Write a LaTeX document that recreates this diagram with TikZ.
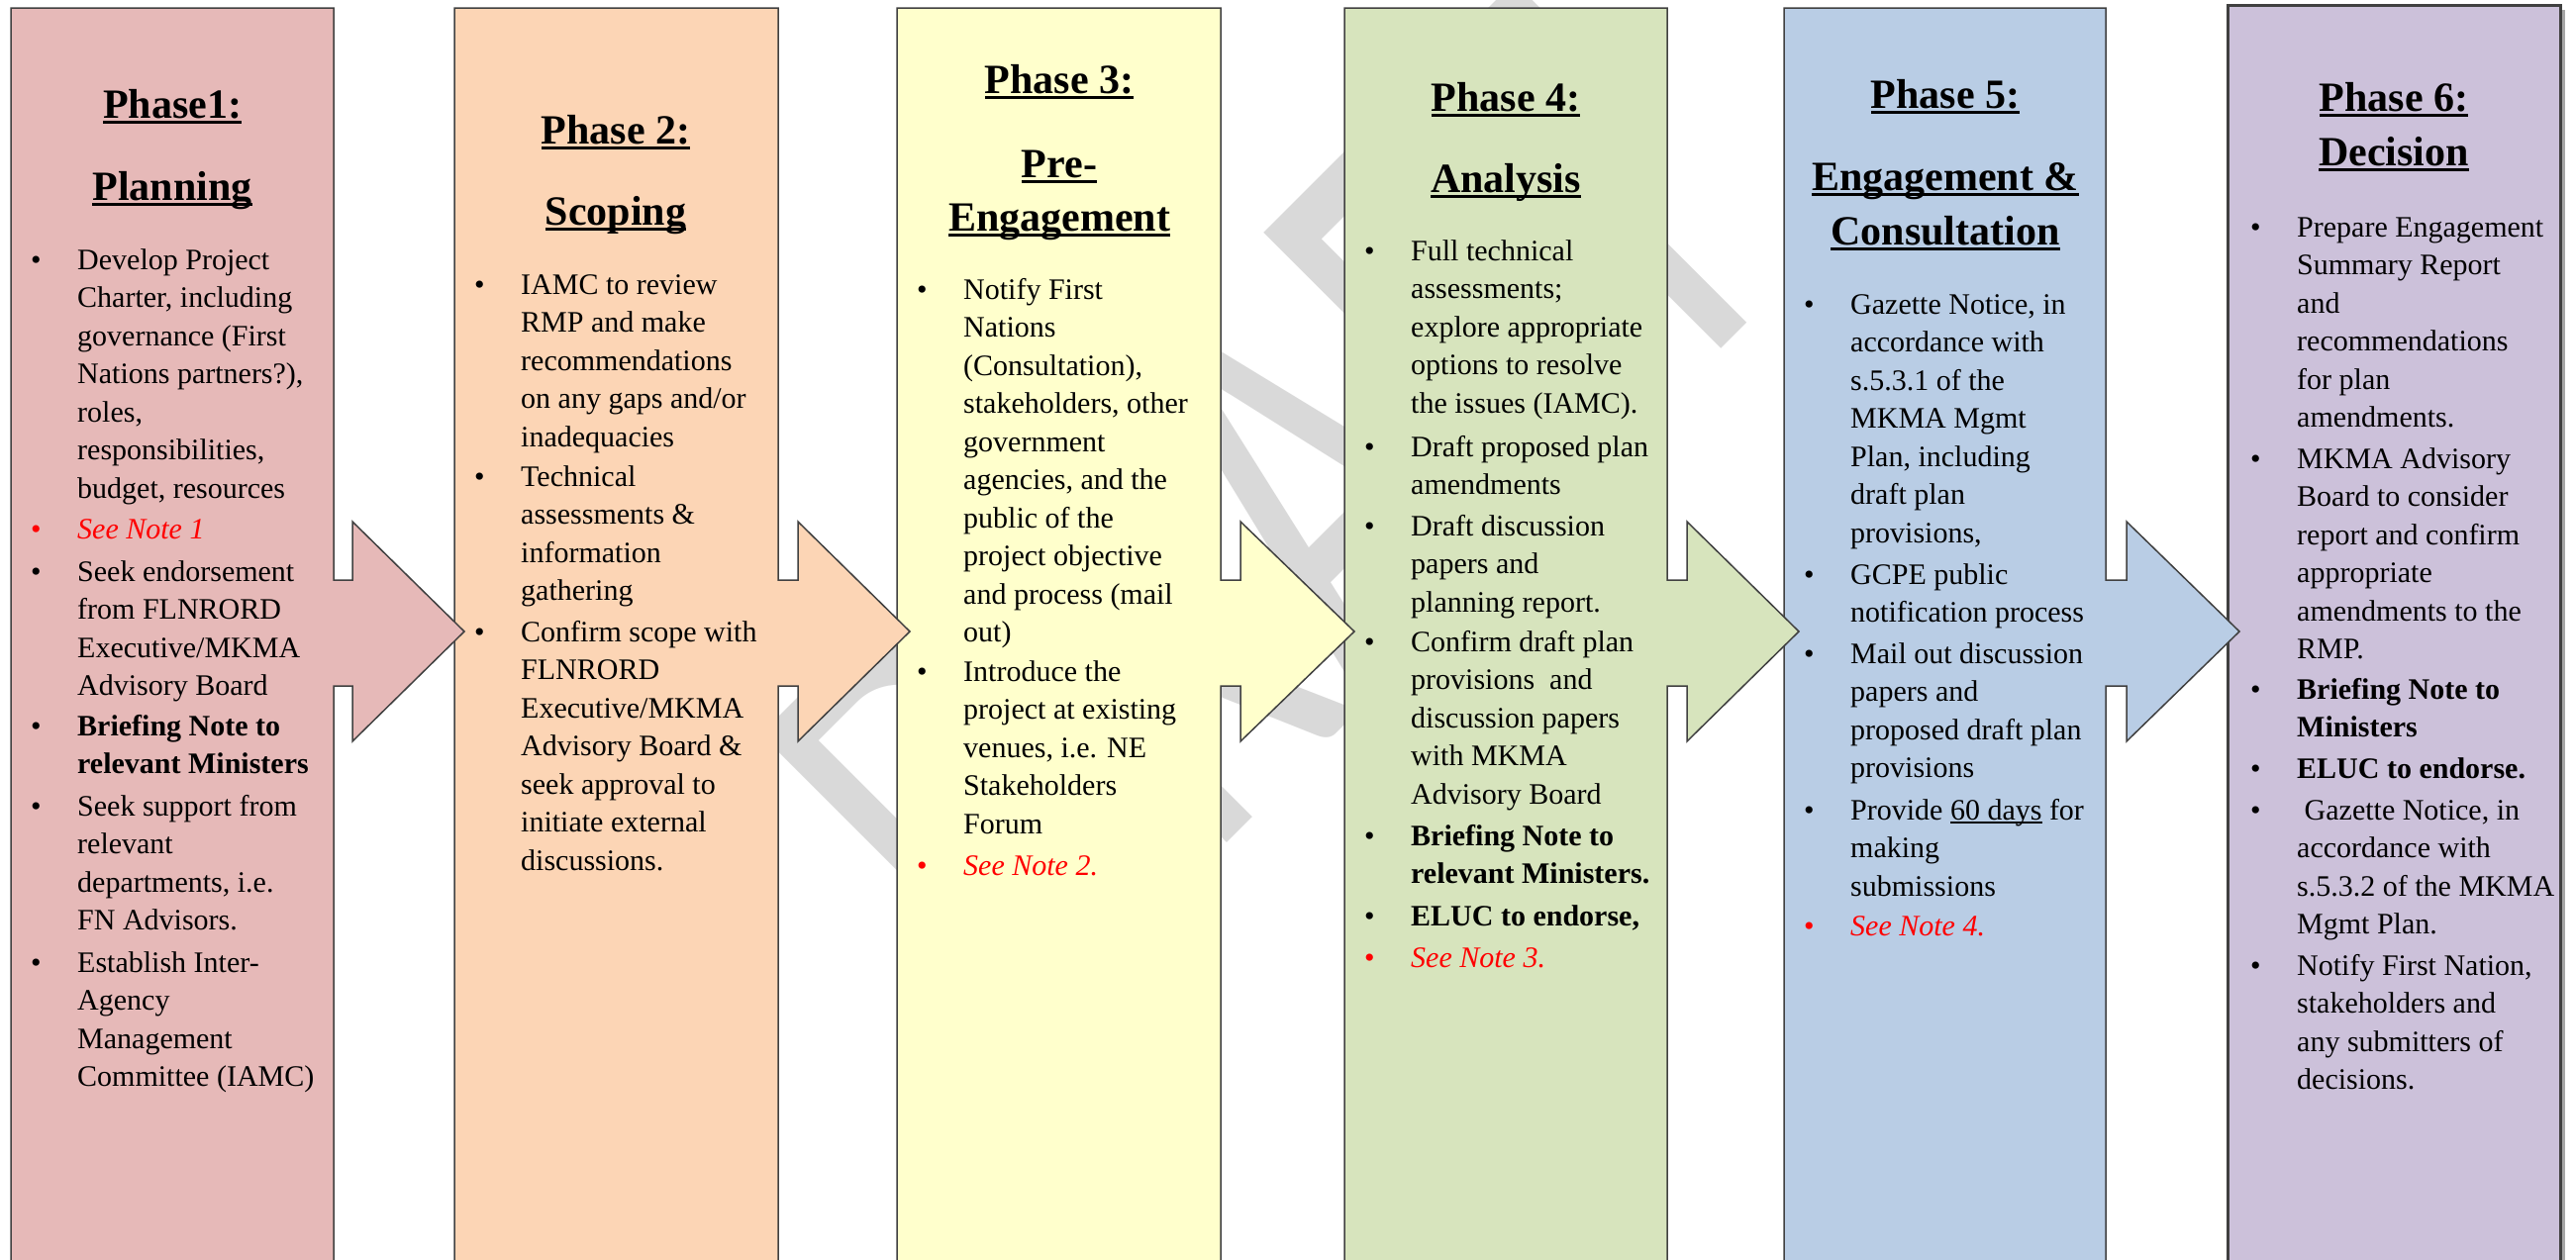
\documentclass[tikz,border=0pt]{standalone}
\usepackage{fontspec}
\setmainfont{Liberation Serif}
\newfontfamily\wmfont{Carlito}
\usepackage{tikz}
\usetikzlibrary{positioning}

\definecolor{ph1}{HTML}{E6B9B8}
\definecolor{ph2}{HTML}{FCD5B5}
\definecolor{ph3}{HTML}{FFFFCC}
\definecolor{ph4}{HTML}{D7E4BD}
\definecolor{ph5}{HTML}{B9CDE5}
\definecolor{ph6}{HTML}{CCC1DA}
\definecolor{wmgray}{HTML}{D9D9D9}
\definecolor{notered}{HTML}{FF0000}

\newcommand{\bodyfont}{\fontsize{30}{38.5}\selectfont}
\newcommand{\titlefont}{\fontsize{42}{55}\selectfont\bfseries}
\newcommand{\phul}[1]{\setbox0=\hbox{#1}\rlap{\rule[-0.14em]{\wd0}{0.065em}}\box0\relax}

\begin{document}
\begin{tikzpicture}[x=1pt, y=-1pt,
    box/.style={draw=black!75, line width=1.5pt, line join=miter},
    dot/.style={anchor=north west, inner sep=0pt, font=\bodyfont},
    dotr/.style={dot, text=notered},
    itm/.style={anchor=north west, inner sep=0pt, align=left, font=\bodyfont},
    itmb/.style={itm, font=\bodyfont\bfseries},
    itmr/.style={itm, text=notered, font=\bodyfont\itshape},
    ttl/.style={anchor=base, inner sep=0pt, font=\titlefont},
    wm/.style={text=wmgray, inner sep=0pt, rotate=45, yscale=1.545,
               font=\wmfont\fontsize{413}{413}\selectfont}]
    \clip (0,0) rectangle (2602,1272);

    % Watermark
    \node[wm] (wm) at (1286,515) {DRAFT};

    % Columns, right to left so every arrow lies on the next column
    \fill[black!35] (2255,10) rectangle (2591,1290);
    \draw[box, line width=3pt, fill=ph6] (2250,5) rectangle (2586,1290);

    \draw[box, fill=ph5] (1802,1290) -- (1802,8) -- (2127,8) -- (2127,586) -- (2148,586) -- (2148,527)
        -- (2262,638) -- (2148,749) -- (2148,693) -- (2127,693) -- (2127,1290) -- cycle;
    \draw[box, fill=ph4] (1358,1290) -- (1358,8) -- (1684,8) -- (1684,586) -- (1704,586) -- (1704,527)
        -- (1817,638) -- (1704,749) -- (1704,693) -- (1684,693) -- (1684,1290) -- cycle;
    \draw[box, fill=ph3] (906,1290) -- (906,8) -- (1233,8) -- (1233,586) -- (1253,586) -- (1253,527)
        -- (1368,638) -- (1253,749) -- (1253,693) -- (1233,693) -- (1233,1290) -- cycle;
    \draw[box, fill=ph2] (459,1290) -- (459,8) -- (786,8) -- (786,586) -- (806,586) -- (806,527)
        -- (919,638) -- (806,749) -- (806,693) -- (786,693) -- (786,1290) -- cycle;
    \draw[box, fill=ph1] (11,1290) -- (11,8) -- (337,8) -- (337,586) -- (356,586) -- (356,527)
        -- (469,638) -- (356,749) -- (356,693) -- (337,693) -- (337,1290) -- cycle;

    % Phase 1
    \node[ttl] (p1t1) at (174,119) {\phul{Phase1:}};
    \node[ttl] (p1t2) at (174,202) {\phul{Planning}};
    \node[dot] (p1a-b) at (31,245) {\strut•};
    \node[itm] (p1a) at (78,245) {\strut Develop Project\\Charter, including\\governance (First\\Nations partners?),\\roles,\\responsibilities,\\budget, resources};
    \node[dotr] (p1b-b) at (31,517) {\strut•};
    \node[itmr] (p1b) at (78,517) {\strut See Note 1};
    \node[dot] (p1c-b) at (31,560) {\strut•};
    \node[itm] (p1c) at (78,560) {\strut Seek endorsement\\from FLNRORD\\Executive/MKMA\\Advisory Board};
    \node[dot] (p1d-b) at (31,716) {\strut•};
    \node[itmb] (p1d) at (78,716) {\strut Briefing Note to\\relevant Ministers};
    \node[dot] (p1e-b) at (31,797) {\strut•};
    \node[itm] (p1e) at (78,797) {\strut Seek support from\\relevant\\departments, i.e.\\FN Advisors.};
    \node[dot] (p1f-b) at (31,955) {\strut•};
    \node[itm] (p1f) at (78,955) {\strut Establish Inter-\\Agency\\Management\\Committee (IAMC)};

    % Phase 2
    \node[ttl] (p2t1) at (622,145) {\phul{Phase 2:}};
    \node[ttl] (p2t2) at (622,227) {\phul{Scoping}};
    \node[dot] (p2a-b) at (479,270) {\strut•};
    \node[itm] (p2a) at (526,270) {\strut IAMC to review\\RMP and make\\recommendations\\on any gaps and/or\\inadequacies};
    \node[dot] (p2b-b) at (479,464) {\strut•};
    \node[itm] (p2b) at (526,464) {\strut Technical\\assessments \&\\information\\gathering};
    \node[dot] (p2c-b) at (479,621) {\strut•};
    \node[itm] (p2c) at (526,621) {\strut Confirm scope with\\FLNRORD\\Executive/MKMA\\Advisory Board \&\\seek approval to\\initiate external\\discussions.};

    % Phase 3
    \node[ttl] (p3t1) at (1070,94) {\phul{Phase 3:}};
    \node[ttl] (p3t2) at (1070,179) {\phul{Pre-}};
    \node[ttl] (p3t3) at (1070,233) {\phul{Engagement}};
    \node[dot] (p3a-b) at (926,275) {\strut•};
    \node[itm] (p3a) at (973,275) {\strut Notify First\\Nations\\(Consultation),\\stakeholders, other\\government\\agencies, and the\\public of the\\project objective\\and process (mail\\out)};
    \node[dot] (p3b-b) at (926,661) {\strut•};
    \node[itm] (p3b) at (973,661) {\strut Introduce the\\project at existing\\venues, i.e. NE\\Stakeholders\\Forum};
    \node[dotr] (p3c-b) at (926,857) {\strut•};
    \node[itmr] (p3c) at (973,857) {\strut See Note 2.};

    % Phase 4
    \node[ttl] (p4t1) at (1521,112) {\phul{Phase 4:}};
    \node[ttl] (p4t2) at (1521,194) {\phul{Analysis}};
    \node[dot] (p4a-b) at (1378,236) {\strut•};
    \node[itm] (p4a) at (1425,236) {\strut Full technical\\assessments;\\explore appropriate\\options to resolve\\the issues (IAMC).};
    \node[dot] (p4b-b) at (1378,434) {\strut•};
    \node[itm] (p4b) at (1425,434) {\strut Draft proposed plan\\amendments};
    \node[dot] (p4c-b) at (1378,514) {\strut•};
    \node[itm] (p4c) at (1425,514) {\strut Draft discussion\\papers and\\planning report.};
    \node[dot] (p4d-b) at (1378,631) {\strut•};
    \node[itm] (p4d) at (1425,631) {\strut Confirm draft plan\\provisions\ \ and\\discussion papers\\with MKMA\\Advisory Board};
    \node[dot] (p4e-b) at (1378,827) {\strut•};
    \node[itmb] (p4e) at (1425,827) {\strut Briefing Note to\\relevant Ministers.};
    \node[dot] (p4f-b) at (1378,908) {\strut•};
    \node[itmb] (p4f) at (1425,908) {\strut ELUC to endorse,};
    \node[dotr] (p4g-b) at (1378,950) {\strut•};
    \node[itmr] (p4g) at (1425,950) {\strut See Note 3.};

    % Phase 5
    \node[ttl] (p5t1) at (1965,109) {\phul{Phase 5:}};
    \node[ttl] (p5t2) at (1965,192) {\phul{Engagement \&}};
    \node[ttl] (p5t3) at (1965,247) {\phul{Consultation}};
    \node[dot] (p5a-b) at (1822,290) {\strut•};
    \node[itm] (p5a) at (1869,290) {\strut Gazette Notice, in\\accordance with\\s.5.3.1 of the\\MKMA Mgmt\\Plan, including\\draft plan\\provisions,};
    \node[dot] (p5b-b) at (1822,563) {\strut•};
    \node[itm] (p5b) at (1869,563) {\strut GCPE public\\notification process};
    \node[dot] (p5c-b) at (1822,643) {\strut•};
    \node[itm] (p5c) at (1869,643) {\strut Mail out discussion\\papers and\\proposed draft plan\\provisions};
    \node[dot] (p5d-b) at (1822,801) {\strut•};
    \node[itm] (p5d) at (1869,801) {\strut Provide \phul{60 days} for\\making\\submissions};
    \node[dotr] (p5e-b) at (1822,918) {\strut•};
    \node[itmr] (p5e) at (1869,918) {\strut See Note 4.};

    % Phase 6
    \node[ttl] (p6t1) at (2418,112) {\phul{Phase 6:}};
    \node[ttl] (p6t2) at (2418,167) {\phul{Decision}};
    \node[dot] (p6a-b) at (2273,212) {\strut•};
    \node[itm] (p6a) at (2320,212) {\strut Prepare Engagement\\Summary Report\\and\\recommendations\\for plan\\amendments.};
    \node[dot] (p6b-b) at (2273,446) {\strut•};
    \node[itm] (p6b) at (2320,446) {\strut MKMA Advisory\\Board to consider\\report and confirm\\appropriate\\amendments to the\\RMP.};
    \node[dot] (p6c-b) at (2273,679) {\strut•};
    \node[itmb] (p6c) at (2320,679) {\strut Briefing Note to\\Ministers};
    \node[dot] (p6d-b) at (2273,759) {\strut•};
    \node[itmb] (p6d) at (2320,759) {\strut ELUC to endorse.};
    \node[dot] (p6e-b) at (2273,801) {\strut•};
    \node[itm] (p6e) at (2320,801) {\strut\hspace{.25em}Gazette Notice, in\\accordance with\\s.5.3.2 of the MKMA\\Mgmt Plan.};
    \node[dot] (p6f-b) at (2273,958) {\strut•};
    \node[itm] (p6f) at (2320,958) {\strut Notify First Nation,\\stakeholders and\\any submitters of\\decisions.};
\end{tikzpicture}
\end{document}
